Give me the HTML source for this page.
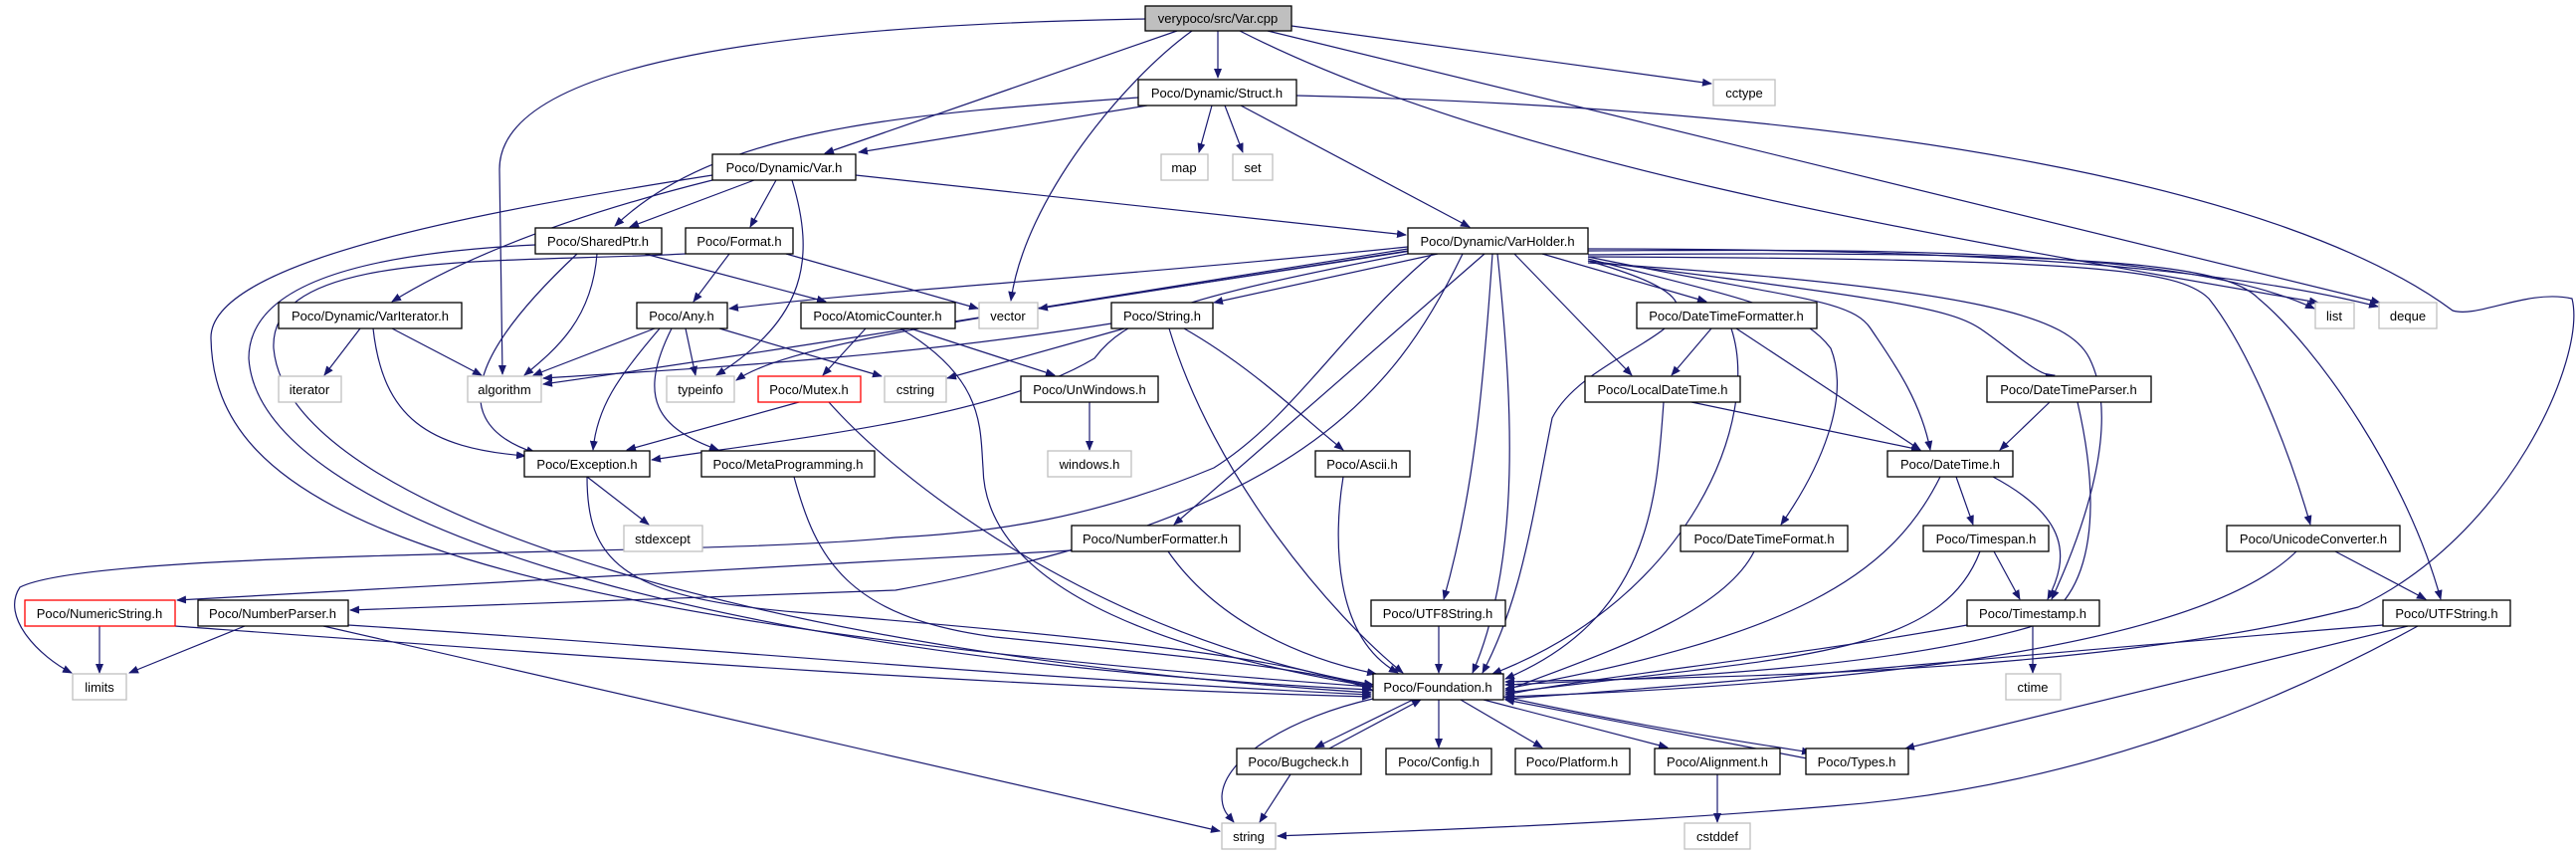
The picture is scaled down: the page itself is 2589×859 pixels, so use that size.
<!DOCTYPE html>
<html><head><meta charset="utf-8"><style>
html,body{margin:0;padding:0;background:#fff;}
svg{display:block;}
text{font-family:"Liberation Sans",sans-serif;font-size:13px;fill:#000;text-anchor:middle;}
.e{fill:none;stroke:#191970;stroke-width:1.2;marker-end:url(#a);}
.n rect{fill:#fff;stroke:#000;stroke-width:1.3;}
.g rect{fill:#fff;stroke:#bfbfbf;stroke-width:1.3;}
.r rect{fill:#fff;stroke:#ff0000;stroke-width:1.3;}
</style></head><body>
<svg width="2589" height="859" viewBox="0 0 2589 859" xmlns="http://www.w3.org/2000/svg">
<defs><marker id="a" markerWidth="10" markerHeight="8" refX="9" refY="4" orient="auto" markerUnits="userSpaceOnUse"><path d="M0,0 L10,4 L0,8 z" fill="#191970"/></marker></defs>
<g>
<path class="e" d="M1151,19 C800,25 502,60 502,170 L505,376"/>
<path class="e" d="M1183,31 L829,154"/>
<path class="e" d="M1198,31 C1130,80 1030,200 1016,302"/>
<path class="e" d="M1224,31 L1224,78"/>
<path class="e" d="M1246,31 C1500,160 1900,230 2330,304"/>
<path class="e" d="M1274,31 L2392,304"/>
<path class="e" d="M1298,26 L1720,84"/>
<path class="e" d="M1153,106 L863,153"/>
<path class="e" d="M1144,98 C900,115 720,130 618,227"/>
<path class="e" d="M1218,106 L1205,153"/>
<path class="e" d="M1231,106 L1249,153"/>
<path class="e" d="M1247,106 L1477,228"/>
<path class="e" d="M1303,96 C1900,110 2300,190 2465,312 C2490,320 2540,290 2585,300 C2600,360 2520,540 2370,610 C2100,680 1700,680 1513,685"/>
<path class="e" d="M758,181 L633,228"/>
<path class="e" d="M780,181 L754,228"/>
<path class="e" d="M796,181 C820,260 810,320 720,377"/>
<path class="e" d="M860,176 L1413,236"/>
<path class="e" d="M716,181 C600,210 480,250 394,303"/>
<path class="e" d="M716,176 C500,210 210,260 212,340 C215,500 400,620 1378,690"/>
<path class="e" d="M600,255 C595,320 560,350 527,377"/>
<path class="e" d="M580,255 C500,330 430,420 538,455"/>
<path class="e" d="M648,255 L830,303"/>
<path class="e" d="M538,246 C350,255 250,290 250,360 C260,520 700,660 1378,693"/>
<path class="e" d="M733,255 L697,303"/>
<path class="e" d="M790,255 L983,310"/>
<path class="e" d="M689,255 C500,265 270,250 275,350 C290,520 800,660 1378,696"/>
<path class="e" d="M362,330 L326,377"/>
<path class="e" d="M394,330 L484,377"/>
<path class="e" d="M375,330 C385,420 430,450 528,458"/>
<path class="e" d="M658,330 L536,377"/>
<path class="e" d="M689,330 L699,377"/>
<path class="e" d="M723,330 L886,378"/>
<path class="e" d="M663,330 C620,380 600,410 596,452"/>
<path class="e" d="M675,330 C640,400 660,430 722,452"/>
<path class="e" d="M870,330 L827,377"/>
<path class="e" d="M915,330 L1060,377"/>
<path class="e" d="M905,330 C990,380 985,430 988,470 C990,600 1200,660 1380,690"/>
<path class="e" d="M1415,248 C1100,280 900,290 733,310"/>
<path class="e" d="M1415,250 C1100,300 800,350 546,386"/>
<path class="e" d="M1418,252 C1050,310 800,340 740,382"/>
<path class="e" d="M1420,254 C1180,300 1130,320 1100,360 C1000,420 800,440 655,462"/>
<path class="e" d="M1440,255 C1350,330 1300,420 1220,470 C1100,520 1000,535 900,540 C700,560 100,550 20,590 C0,620 40,660 72,676"/>
<path class="e" d="M1415,252 L1044,310"/>
<path class="e" d="M1445,255 L1220,304"/>
<path class="e" d="M1492,255 L1180,527"/>
<path class="e" d="M1470,255 C1400,400 1300,520 900,593 L352,613"/>
<path class="e" d="M1500,255 C1490,400 1480,500 1451,602"/>
<path class="e" d="M1505,255 C1520,400 1530,560 1480,676"/>
<path class="e" d="M1522,255 L1640,377"/>
<path class="e" d="M1550,255 L1715,303"/>
<path class="e" d="M1596,258 C1800,300 1860,300 1880,330 C1900,360 1930,400 1940,452"/>
<path class="e" d="M1596,260 C1750,300 1810,310 1840,350 C1860,400 1830,470 1790,527"/>
<path class="e" d="M1596,262 C1900,300 1960,310 1990,330 C2020,350 2050,380 2065,377"/>
<path class="e" d="M1596,264 C2000,290 2080,320 2100,360 C2130,420 2100,520 2062,602"/>
<path class="e" d="M1596,258 C2100,260 2190,270 2220,300 C2260,350 2300,450 2322,527"/>
<path class="e" d="M1596,256 C2150,250 2240,270 2270,300 C2330,350 2420,480 2453,602"/>
<path class="e" d="M1596,252 C1900,250 2200,250 2326,310"/>
<path class="e" d="M1596,250 C1900,250 2200,260 2390,308"/>
<path class="e" d="M1596,262 C1800,320 1600,340 1560,420 C1540,520 1530,600 1490,676"/>
<path class="e" d="M1117,325 C900,360 700,370 546,380"/>
<path class="e" d="M1130,330 L952,380"/>
<path class="e" d="M1175,330 C1220,480 1340,620 1410,676"/>
<path class="e" d="M1190,330 C1260,370 1310,420 1350,452"/>
<path class="e" d="M1350,479 C1340,540 1340,640 1405,676"/>
<path class="e" d="M1095,404 L1095,452"/>
<path class="e" d="M803,404 L630,452"/>
<path class="e" d="M833,404 C900,480 1100,640 1380,688"/>
<path class="e" d="M590,479 L652,527"/>
<path class="e" d="M590,479 C590,560 620,600 800,615 C1100,640 1300,660 1380,694"/>
<path class="e" d="M798,479 C820,560 850,620 1000,640 C1200,660 1300,670 1380,690"/>
<path class="e" d="M1077,553 L178,603"/>
<path class="e" d="M1174,554 C1220,620 1300,660 1383,677"/>
<path class="e" d="M100,629 L100,676"/>
<path class="e" d="M176,629 C600,660 1000,690 1378,700"/>
<path class="e" d="M246,629 L130,676"/>
<path class="e" d="M350,628 C700,650 1000,680 1378,698"/>
<path class="e" d="M325,629 L1226,835"/>
<path class="e" d="M1446,629 L1446,676"/>
<path class="e" d="M1720,330 L1680,377"/>
<path class="e" d="M1745,330 L1930,452"/>
<path class="e" d="M1740,330 C1770,420 1700,600 1500,677"/>
<path class="e" d="M1700,404 L1930,452"/>
<path class="e" d="M1672,404 C1665,500 1660,620 1513,682"/>
<path class="e" d="M2060,404 L2010,452"/>
<path class="e" d="M2088,404 C2110,500 2110,600 2040,630 C1900,670 1700,680 1513,688"/>
<path class="e" d="M1966,479 L1983,527"/>
<path class="e" d="M2003,479 C2080,520 2080,560 2058,602"/>
<path class="e" d="M1950,479 C1900,580 1800,640 1513,692"/>
<path class="e" d="M1763,554 C1730,620 1600,660 1513,694"/>
<path class="e" d="M2004,554 L2030,602"/>
<path class="e" d="M1990,554 C1950,660 1800,660 1513,696"/>
<path class="e" d="M2043,629 L2043,676"/>
<path class="e" d="M1977,628 C1800,660 1600,680 1513,698"/>
<path class="e" d="M2347,554 L2438,602"/>
<path class="e" d="M2308,554 C2200,660 1800,690 1513,700"/>
<path class="e" d="M2395,628 C2000,660 1700,690 1513,702"/>
<path class="e" d="M2420,629 L1915,752"/>
<path class="e" d="M2430,629 C2300,700 2100,790 1840,810 C1600,830 1400,835 1284,840"/>
<path class="e" d="M1380,702 C1300,720 1230,760 1228,800 C1228,815 1235,820 1240,826"/>
<path class="e" d="M1420,703 L1322,751"/>
<path class="e" d="M1336,752 L1428,703"/>
<path class="e" d="M1446,703 L1446,751"/>
<path class="e" d="M1468,703 L1550,751"/>
<path class="e" d="M1491,703 L1676,751"/>
<path class="e" d="M1511,700 C1650,730 1750,745 1820,756"/>
<path class="e" d="M1816,762 C1700,740 1600,720 1513,703"/>
<path class="e" d="M1297,778 L1266,826"/>
<path class="e" d="M1726,778 L1726,826"/>
</g>
<g class="n"><rect x="1151" y="6" width="147" height="25" style="fill:#bfbfbf"/><text x="1224" y="23">verypoco/src/Var.cpp</text></g>
<g class="n"><rect x="1144" y="80" width="159" height="26"/><text x="1223" y="98">Poco/Dynamic/Struct.h</text></g>
<g class="g"><rect x="1722" y="80" width="62" height="26"/><text x="1753" y="98">cctype</text></g>
<g class="n"><rect x="716" y="155" width="144" height="26"/><text x="788" y="173">Poco/Dynamic/Var.h</text></g>
<g class="g"><rect x="1167" y="155" width="47" height="26"/><text x="1190" y="173">map</text></g>
<g class="g"><rect x="1239" y="155" width="40" height="26"/><text x="1259" y="173">set</text></g>
<g class="n"><rect x="538" y="229" width="127" height="26"/><text x="601" y="247">Poco/SharedPtr.h</text></g>
<g class="n"><rect x="689" y="229" width="108" height="26"/><text x="743" y="247">Poco/Format.h</text></g>
<g class="n"><rect x="1415" y="229" width="181" height="26"/><text x="1505" y="247">Poco/Dynamic/VarHolder.h</text></g>
<g class="n"><rect x="280" y="304" width="184" height="26"/><text x="372" y="322">Poco/Dynamic/VarIterator.h</text></g>
<g class="n"><rect x="640" y="304" width="91" height="26"/><text x="685" y="322">Poco/Any.h</text></g>
<g class="n"><rect x="805" y="304" width="155" height="26"/><text x="882" y="322">Poco/AtomicCounter.h</text></g>
<g class="g"><rect x="984" y="304" width="59" height="26"/><text x="1013" y="322">vector</text></g>
<g class="n"><rect x="1117" y="304" width="102" height="26"/><text x="1168" y="322">Poco/String.h</text></g>
<g class="n"><rect x="1645" y="304" width="181" height="26"/><text x="1735" y="322">Poco/DateTimeFormatter.h</text></g>
<g class="g"><rect x="2327" y="304" width="39" height="26"/><text x="2346" y="322">list</text></g>
<g class="g"><rect x="2391" y="304" width="58" height="26"/><text x="2420" y="322">deque</text></g>
<g class="g"><rect x="280" y="378" width="63" height="26"/><text x="311" y="396">iterator</text></g>
<g class="g"><rect x="470" y="378" width="74" height="26"/><text x="507" y="396">algorithm</text></g>
<g class="g"><rect x="670" y="378" width="68" height="26"/><text x="704" y="396">typeinfo</text></g>
<g class="r"><rect x="762" y="378" width="103" height="26"/><text x="813" y="396">Poco/Mutex.h</text></g>
<g class="g"><rect x="889" y="378" width="62" height="26"/><text x="920" y="396">cstring</text></g>
<g class="n"><rect x="1026" y="378" width="138" height="26"/><text x="1095" y="396">Poco/UnWindows.h</text></g>
<g class="n"><rect x="1593" y="378" width="156" height="26"/><text x="1671" y="396">Poco/LocalDateTime.h</text></g>
<g class="n"><rect x="1997" y="378" width="165" height="26"/><text x="2079" y="396">Poco/DateTimeParser.h</text></g>
<g class="n"><rect x="527" y="453" width="126" height="26"/><text x="590" y="471">Poco/Exception.h</text></g>
<g class="n"><rect x="705" y="453" width="174" height="26"/><text x="792" y="471">Poco/MetaProgramming.h</text></g>
<g class="g"><rect x="1053" y="453" width="84" height="26"/><text x="1095" y="471">windows.h</text></g>
<g class="n"><rect x="1322" y="453" width="95" height="26"/><text x="1369" y="471">Poco/Ascii.h</text></g>
<g class="n"><rect x="1897" y="453" width="126" height="26"/><text x="1960" y="471">Poco/DateTime.h</text></g>
<g class="g"><rect x="627" y="528" width="79" height="26"/><text x="666" y="546">stdexcept</text></g>
<g class="n"><rect x="1077" y="528" width="169" height="26"/><text x="1161" y="546">Poco/NumberFormatter.h</text></g>
<g class="n"><rect x="1689" y="528" width="168" height="26"/><text x="1773" y="546">Poco/DateTimeFormat.h</text></g>
<g class="n"><rect x="1933" y="528" width="126" height="26"/><text x="1996" y="546">Poco/Timespan.h</text></g>
<g class="n"><rect x="2238" y="528" width="174" height="26"/><text x="2325" y="546">Poco/UnicodeConverter.h</text></g>
<g class="r"><rect x="25" y="603" width="151" height="26"/><text x="100" y="621">Poco/NumericString.h</text></g>
<g class="n"><rect x="199" y="603" width="151" height="26"/><text x="274" y="621">Poco/NumberParser.h</text></g>
<g class="n"><rect x="1378" y="603" width="135" height="26"/><text x="1445" y="621">Poco/UTF8String.h</text></g>
<g class="n"><rect x="1977" y="603" width="133" height="26"/><text x="2043" y="621">Poco/Timestamp.h</text></g>
<g class="n"><rect x="2395" y="603" width="128" height="26"/><text x="2459" y="621">Poco/UTFString.h</text></g>
<g class="g"><rect x="73" y="677" width="54" height="26"/><text x="100" y="695">limits</text></g>
<g class="n"><rect x="1380" y="677" width="131" height="26"/><text x="1445" y="695">Poco/Foundation.h</text></g>
<g class="g"><rect x="2016" y="677" width="55" height="26"/><text x="2043" y="695">ctime</text></g>
<g class="n"><rect x="1243" y="752" width="125" height="26"/><text x="1305" y="770">Poco/Bugcheck.h</text></g>
<g class="n"><rect x="1393" y="752" width="106" height="26"/><text x="1446" y="770">Poco/Config.h</text></g>
<g class="n"><rect x="1523" y="752" width="115" height="26"/><text x="1580" y="770">Poco/Platform.h</text></g>
<g class="n"><rect x="1663" y="752" width="126" height="26"/><text x="1726" y="770">Poco/Alignment.h</text></g>
<g class="n"><rect x="1815" y="752" width="103" height="26"/><text x="1866" y="770">Poco/Types.h</text></g>
<g class="g"><rect x="1228" y="827" width="54" height="26"/><text x="1255" y="845">string</text></g>
<g class="g"><rect x="1693" y="827" width="66" height="26"/><text x="1726" y="845">cstddef</text></g>
</svg>
</body></html>
